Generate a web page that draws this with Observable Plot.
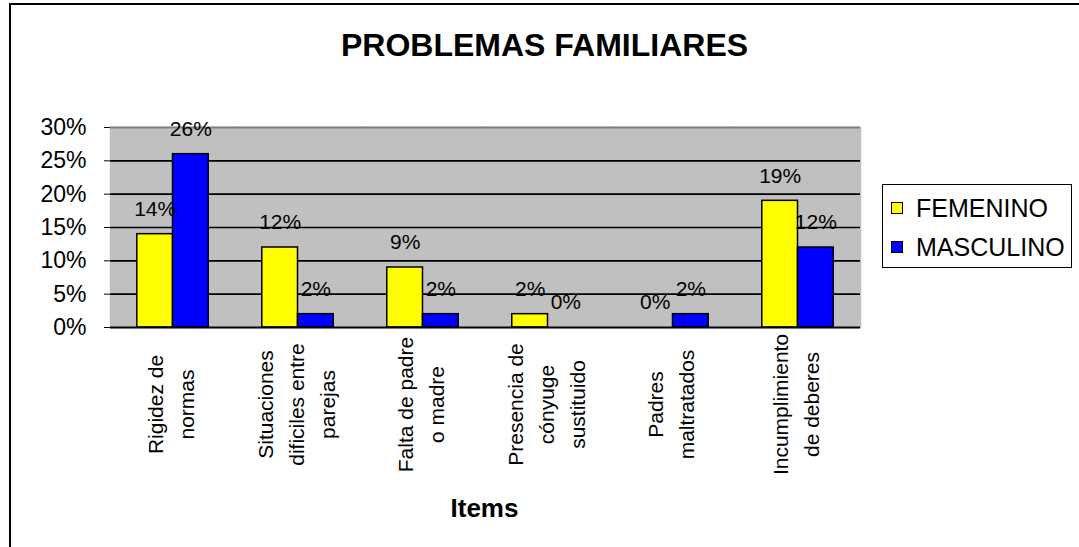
<!DOCTYPE html>
<html>
<head>
<meta charset="utf-8">
<script src="https://cdn.jsdelivr.net/npm/d3@7"></script>
<script src="https://cdn.jsdelivr.net/npm/@observablehq/plot@0.6"></script>
<style>
  html, body { margin: 0; padding: 0; background: #fff; }
  #chart { position: relative; width: 1079px; height: 547px; overflow: hidden;
           font-family: "Liberation Sans", Arial, sans-serif; color: #000; background: #fff; }
  #chart svg { position: absolute; left: 0; top: 0; }
  #frame { position: absolute; left: 9px; top: 3px; width: 1200px; height: 700px;
           border-left: 2.5px solid #000; border-top: 2px solid #000; }
  #title { position: absolute; left: 0; width: 1089px; top: 26px; text-align: center;
           font-weight: bold; font-size: 32px; line-height: 38px; }
  #xlabel { position: absolute; left: 107px; width: 755px; top: 493px; text-align: center;
            font-weight: bold; font-size: 26px; line-height: 30px; }
  #legend { position: absolute; left: 882px; top: 184px; width: 190px; height: 84px;
            border: 1.5px solid #000; box-sizing: border-box; background: #fff; }
  .row { position: absolute; left: 8px; height: 28px; display: flex; align-items: center;
         font-size: 25px; white-space: nowrap; }
  .sw { width: 10px; height: 10px; border: 1px solid #000; margin-right: 13px; }
</style>
</head>
<body>
<div id="chart"></div>
<script>
// ---- data ----
const categories = [
  "Rigidez de normas",
  "Situaciones dificiles entre parejas",
  "Falta de padre o madre",
  "Presencia de cónyuge sustituido",
  "Padres maltratados",
  "Incumplimiento de deberes"
];
const categoryLabels = [
  "Rigidez de\nnormas",
  "Situaciones\ndificiles entre\nparejas",
  "Falta de padre\no madre",
  "Presencia de\ncónyuge\nsustituido",
  "Padres\nmaltratados",
  "Incumplimiento\nde deberes"
];
const series = ["FEMENINO", "MASCULINO"];
const femenino = [0.14, 0.12, 0.09, 0.02, 0.00, 0.19];
const masculino = [0.26, 0.02, 0.02, 0.00, 0.02, 0.12];
const yTicks = [0, 0.05, 0.10, 0.15, 0.20, 0.25, 0.30];
const chartTitle = "PROBLEMAS FAMILIARES";
const xTitle = "Items";

// ---- table built from the arrays ----
const rows = categories.flatMap((c, i) => [
  {cat: c, label: categoryLabels[i], sex: series[0], value: femenino[i]},
  {cat: c, label: categoryLabels[i], sex: series[1], value: masculino[i]}
]);

const W = 1079, H = 547, ML = 107, MR = 217, MT = 127, MB = 220;
const fw = (W - ML - MR) / categories.length;
const pct = d3.format(".0%");
const firstOfCell = d => d.sex === series[0];
const firstCat = d => firstOfCell(d) && d.cat === categories[0];
const lastCat = d => firstOfCell(d) && d.cat === categories[categories.length - 1];
const yMax = yTicks[yTicks.length - 1];

const plot = Plot.plot({
  width: W, height: H,
  marginLeft: ML, marginRight: MR, marginTop: MT, marginBottom: MB,
  style: {fontFamily: '"Liberation Sans", Arial, sans-serif', fontSize: "23px",
          color: "#000", background: "transparent", overflow: "visible"},
  facet: {data: rows, x: "cat"},
  fx: {domain: categories, padding: 0, axis: null, label: null},
  x: {domain: series, paddingInner: 0, paddingOuter: 0.75, axis: null, label: null, round: false},
  y: {domain: [0, yMax], ticks: yTicks, tickFormat: pct, tickSize: 6, tickPadding: 18, label: null},
  color: {domain: series, range: ["#FFFF00", "#0000FF"]},
  marks: [
    Plot.frame({fill: "#C0C0C0", stroke: "#C0C0C0", strokeWidth: 1.5}),
    Plot.ruleY(yTicks.filter(t => t > 0 && t < yMax), {stroke: "#000", strokeWidth: 1.6}),
    Plot.ruleY([yMax], {stroke: "#808080", strokeWidth: 2}),
    Plot.ruleX(rows, {filter: lastCat, y1: 0, y2: yMax, dx: fw / 2, stroke: "#808080", strokeWidth: 2}),
    Plot.barY(rows, {x: "sex", y: "value", fill: "sex", stroke: "#000", strokeWidth: 1.5}),
    Plot.ruleY([0], {stroke: "#000", strokeWidth: 2}),
    Plot.ruleX(rows, {filter: firstCat, y1: 0, y2: yMax, dx: -fw / 2, stroke: "#000", strokeWidth: 2}),
    Plot.ruleX(rows, {filter: firstOfCell, y1: 0, y2: 0, insetBottom: -7, dx: -fw / 2, stroke: "#000", strokeWidth: 1.5}),
    Plot.ruleX(rows, {filter: lastCat, y1: 0, y2: 0, insetBottom: -7, dx: fw / 2, stroke: "#000", strokeWidth: 1.5}),
    Plot.text(rows, {x: "sex", y: "value", text: d => pct(d.value), dy: -25, fontSize: 21}),
    Plot.text(rows, {filter: firstOfCell, text: "label", frameAnchor: "bottom", lineAnchor: "middle",
                     textAnchor: "middle", dy: 77, dx: -4, rotate: -90, lineHeight: 1.48, fontSize: 21})
  ]
});

const chart = document.getElementById("chart");
chart.appendChild(plot);

const frame = document.createElement("div");
frame.id = "frame";
chart.appendChild(frame);

const title = document.createElement("div");
title.id = "title";
title.textContent = chartTitle;
chart.appendChild(title);

const xl = document.createElement("div");
xl.id = "xlabel";
xl.textContent = xTitle;
chart.appendChild(xl);

// legend built from the plot's own color scale
const colorScale = plot.scale("color");
const legend = document.createElement("div");
legend.id = "legend";
colorScale.domain.forEach((name, i) => {
  const row = document.createElement("div");
  row.className = "row";
  row.style.top = (9 + 39 * i) + "px";
  const sw = document.createElement("div");
  sw.className = "sw";
  sw.style.background = colorScale.range[i];
  const t = document.createElement("span");
  t.textContent = name;
  row.appendChild(sw);
  row.appendChild(t);
  legend.appendChild(row);
});
chart.appendChild(legend);
</script>
</body>
</html>
